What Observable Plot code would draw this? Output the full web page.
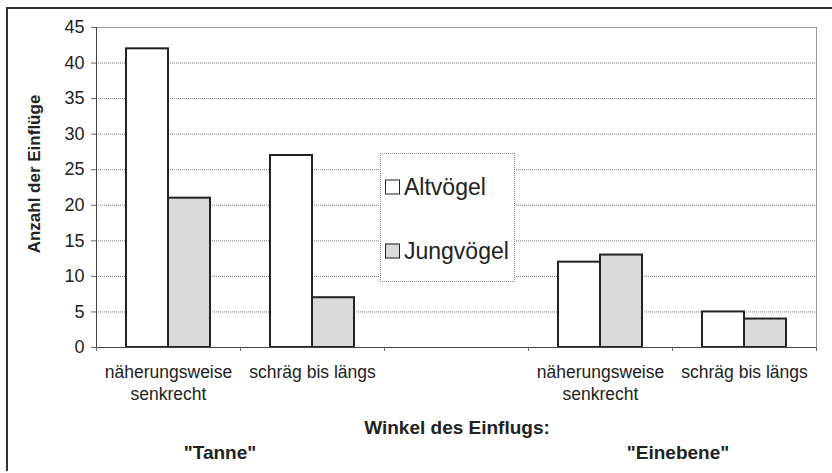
<!DOCTYPE html>
<html>
<head>
<meta charset="utf-8">
<script src="https://cdn.jsdelivr.net/npm/d3@7"></script>
<script src="https://cdn.jsdelivr.net/npm/@observablehq/plot@0.6"></script>
<style>
  body { margin: 0; background: #fff; }
  #wrap { position: relative; width: 832px; height: 473px; font-family: "Liberation Sans", Arial, sans-serif; color: #222; overflow: hidden; }
  #wrap svg { position: absolute; left: 0; top: 0; }
  .frame { position: absolute; left: 6px; top: 7px; width: 840px; height: 462px; border-left: 2px solid #333; border-top: 2px solid #333; }
  .t { position: absolute; font-weight: bold; white-space: nowrap; transform: translate(-50%, -50%); }
  .legend { position: absolute; left: 380px; top: 153px; width: 133px; height: 127px; border: 1px dotted #888; background: #fff; }
  .li { position: absolute; left: 4px; font-size: 23px; display: flex; align-items: center; white-space: nowrap; transform: translateY(-50%); }
  .sw { width: 13px; height: 13px; border: 1.5px solid #222; margin-right: 4px; }
</style>
</head>
<body>
<div id="wrap"></div>
<script>
// ---- data ----
const slots = ["T-senkrecht", "T-schraeg", "Luecke", "E-senkrecht", "E-schraeg"];
const slotLabels = ["näherungsweise\nsenkrecht", "schräg bis längs", "", "näherungsweise\nsenkrecht", "schräg bis längs"];
const series = ["Altvögel", "Jungvögel"];
const altvoegel = [42, 27, null, 12, 5];
const jungvoegel = [21, 7, null, 13, 4];
const yTicks = [0, 5, 10, 15, 20, 25, 30, 35, 40, 45];
const seriesColors = ["#ffffff", "#d9d9d9"];
const yTitle = "Anzahl der Einflüge";
const xTitle = "Winkel des Einflugs:";
const groupTitles = ["\"Tanne\"", "\"Einebene\""];

const altRows = slots.map((s, i) => ({slot: s, value: altvoegel[i]})).filter(d => d.value != null);
const jungRows = slots.map((s, i) => ({slot: s, value: jungvoegel[i]})).filter(d => d.value != null);
const labelOf = new Map(slots.map((s, i) => [s, slotLabels[i]]));

const chart = Plot.plot({
  width: 832,
  height: 473,
  marginLeft: 96,
  marginRight: 16,
  marginTop: 27,
  marginBottom: 126,
  style: {fontFamily: "'Liberation Sans', Arial, sans-serif", color: "#222", background: "transparent"},
  x: {type: "band", domain: slots, padding: 0, round: false, label: null},
  y: {domain: [0, 45], label: null},
  marks: [
    Plot.gridY(yTicks.slice(1), {stroke: "#777", strokeOpacity: 1, strokeDasharray: "1,1"}),
    Plot.frame({stroke: "#999", strokeWidth: 1}),
    Plot.barY(altRows, {x: "slot", y: "value", fill: seriesColors[0], stroke: "#222", strokeWidth: 2, insetLeft: 30, insetRight: 72}),
    Plot.barY(jungRows, {x: "slot", y: "value", fill: seriesColors[1], stroke: "#222", strokeWidth: 2, insetLeft: 72, insetRight: 30}),
    Plot.ruleY([0], {stroke: "#444", strokeWidth: 1}),
    Plot.frame({anchor: "left", stroke: "#444", strokeWidth: 1}),
    Plot.ruleX(slots, {x: d => d, dx: -72, y1: 0, y2: 0, insetBottom: -4, stroke: "#666"}),
    Plot.ruleX(slots.slice(-1), {x: d => d, dx: 72, y1: 0, y2: 0, insetBottom: -4, stroke: "#666"}),
    Plot.axisY({ticks: yTicks, tickSize: 5, tickPadding: 7, fontSize: 18, label: null, stroke: "#666"}),
    Plot.axisX({tickSize: 0, tickPadding: 15, fontSize: 17.5, lineHeight: 1.26, tickFormat: d => labelOf.get(d), label: null})
  ]
});

const wrap = document.getElementById("wrap");
const frame = document.createElement("div");
frame.className = "frame";
wrap.appendChild(frame);
wrap.appendChild(chart);

function addText(txt, x, y, size, rotate) {
  const el = document.createElement("div");
  el.className = "t";
  el.textContent = txt;
  el.style.left = x + "px";
  el.style.top = y + "px";
  el.style.fontSize = size + "px";
  if (rotate) el.style.transform = "translate(-50%, -50%) rotate(-90deg)";
  wrap.appendChild(el);
}
addText(yTitle, 35, 174, 17, true);
addText(xTitle, 457, 428, 19, false);
addText(groupTitles[0], 220, 453, 19, false);
addText(groupTitles[1], 678, 453, 19, false);

const legend = document.createElement("div");
legend.className = "legend";
series.forEach((s, i) => {
  const it = document.createElement("div");
  it.className = "li";
  it.style.top = (i === 0 ? 33 : 97) + "px";
  const sw = document.createElement("span");
  sw.className = "sw";
  sw.style.background = seriesColors[i];
  it.appendChild(sw);
  const tx = document.createElement("span");
  tx.textContent = s;
  it.appendChild(tx);
  legend.appendChild(it);
});
wrap.appendChild(legend);
</script>
</body>
</html>
